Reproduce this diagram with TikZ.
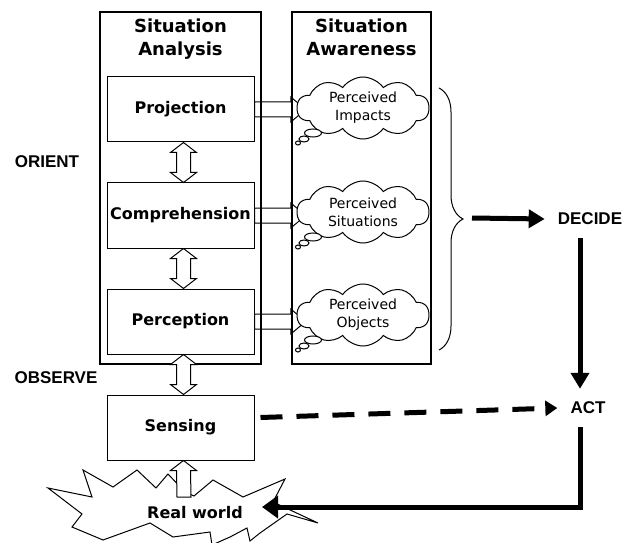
\documentclass[tikz,border=0pt]{standalone}
\usepackage{fontspec}
\setmainfont{DejaVu Sans}
\newfontfamily\loopfont{Liberation Sans}
\usetikzlibrary{arrows.meta,positioning,calc,shapes.symbols,decorations.pathreplacing,backgrounds}

\begin{document}
\begin{tikzpicture}[
  x=1pt, y=-1pt,
  panel/.style={draw, line width=2.5pt, inner sep=0pt},
  paneltitle/.style={anchor=north, inner sep=0pt, align=center, font=\bfseries\fontsize{18}{23}\selectfont},
  stagebox/.style={draw, line width=1pt, minimum width=147pt, minimum height=65pt, inner sep=0pt, font=\bfseries\fontsize{16}{19}\selectfont},
  thought/.style={cloud, draw, fill=white, line width=1pt, cloud puffs=10, cloud puff arc=110, cloud ignores aspect,
    minimum width=132pt, minimum height=62pt, inner sep=0pt, align=center, font=\fontsize{14}{18}\selectfont},
  loopword/.style={inner sep=13pt, font=\loopfont\bfseries\fontsize{17}{20}\selectfont},
  hollow/.style={draw, line width=1pt, fill=white},
  heavy/.style={line width=5pt, -{Triangle[length=16pt,width=18pt]}},
  node distance=40pt
]
\useasboundingbox (0,0) rectangle (633,543);

% --- panels ---
\node[panel, minimum width=161pt, minimum height=352pt] (sa) at (180.5,188) {};
\node[panel, minimum width=139pt, minimum height=352pt] (aw) at (361.5,188) {};
\node[paneltitle] (satitle) at ($(sa.north)+(0,8)$) {Situation\\Analysis};
\node[paneltitle] (awtitle) at ($(aw.north)+(0,8)$) {Situation\\Awareness};

% --- stages ---
\node[stagebox] (proj) at (180.5,109.5) {Projection};
\node[stagebox] (comp) [below=of proj] {Comprehension};
\node[stagebox] (perc) [below=of comp] {Perception};
\node[stagebox] (sens) [below=of perc] {Sensing};

% --- perceived things ---
\node[thought] (imp) at (363,108) {Perceived\\Impacts};
\node[thought] (sit) at (363,212) {Perceived\\Situations};
\node[thought] (obj) at (363,315) {Perceived\\Objects};

\foreach \c in {imp,sit,obj} {
  \draw[hollow] ($(\c.center)+(-50,25)$) ellipse [x radius=8.5pt, y radius=4pt];
  \draw[hollow] ($(\c.center)+(-59,31)$) ellipse [x radius=5pt, y radius=3pt];
  \draw[hollow] ($(\c.center)+(-65,35)$) ellipse [x radius=2.5pt, y radius=2pt];
}

% --- OODA words ---
\node[loopword] (orient)  at (47,162)  {ORIENT};
\node[loopword] (observe) at (56,378)  {OBSERVE};
\node[loopword] (decide)  at (590,219) {DECIDE};
\node[loopword] (act)     at (588,408) {ACT};

% --- real world ---
\draw[line width=1pt, fill=white] (48,488) -- (92,497) -- (83,470) -- (113,487) -- (137,470) -- (156,488)
  -- (168,474) -- (185,492) -- (194,496) -- (213,480) -- (243,497) -- (285,479) -- (273,502)
  -- (318,523) -- (287,514) -- (260,533) -- (250,541) -- (247,528) -- (230,537) -- (212,545)
  -- (210,532) -- (173,537) -- (150,523) -- (103,540) -- (72,527) -- (82,514) -- cycle;
\node[inner sep=0pt, font=\bfseries\fontsize{16}{19}\selectfont] (rw) at (195,513) {Real world};
\coordinate (rwtop) at (184,497);

% --- stage to awareness ---
\begin{scope}[on background layer]
\foreach \a/\c in {proj/imp, comp/sit, perc/obj}
  \draw[hollow] ($(\a.east)+(0,-7.5)$) -- ($(\a.east -| aw.west)+(0,-7.5)$) -- ++(0,-5)
    -- ($(\a.east -| \c.west)+(9,0)$) -- ($(\a.east -| aw.west)+(0,12.5)$) -- ++(0,-5)
    -- ($(\a.east)+(0,7.5)$) -- cycle;
\end{scope}

% --- between stages ---
\foreach \a/\b in {proj/comp, comp/perc, perc/sens}
  \draw[hollow] ($(\a.south)+(3,0)$) -- ++(13,10) -- ++(-6,0) -- ($(\b.north)+(10,-10)$) -- ++(6,0)
    -- ($(\b.north)+(3,0)$) -- ++(-13,-10) -- ++(6,0) -- ($(\a.south)+(-4,10)$) -- ++(-6,0) -- cycle;

\draw[hollow] ($(rwtop)+(-7,0)$) -- ($(sens.south)+(-4,10)$) -- ++(-6,0) -- ($(sens.south)+(3,0)$)
  -- ++(13,10) -- ++(-6,0) -- ($(rwtop)+(7,0)$) -- cycle;

% --- decide / act loop ---
\draw[line width=1pt, decorate, decoration={brace, amplitude=24pt}] (439,88) -- (439,350);
\coordinate (bracetip) at (472,218);
\draw[heavy] (bracetip) -- (decide.west);
\draw[heavy] ([xshift=-10pt]decide.south) -- ([xshift=-10pt]decide.south |- act.north);
\draw[line width=5pt, dash pattern=on 22pt off 14pt, -{Triangle[length=12pt,width=15pt]}]
  ($(sens.east)+(6,-10)$) -- (act.west);
\draw[heavy, -{Triangle[length=16pt,width=22pt]}] ([xshift=-8pt]act.south) |- ($(rw.east)+(19,-6)$);

\end{tikzpicture}
\end{document}
